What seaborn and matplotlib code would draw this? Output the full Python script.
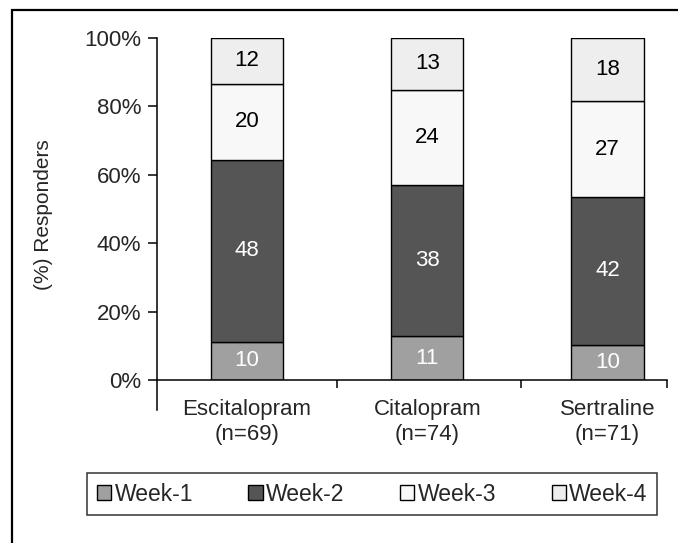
import numpy as np
import pandas as pd
import seaborn as sns
import matplotlib.pyplot as plt
from matplotlib.patches import Rectangle
from matplotlib.ticker import FixedLocator, PercentFormatter

# Chart data
drugs = ["Escitalopram\n(n=69)", "Citalopram\n(n=74)", "Sertraline\n(n=71)"]
weeks = ["Week-1", "Week-2", "Week-3", "Week-4"]
week1 = [10, 11, 10]
week2 = [48, 38, 42]
week3 = [20, 24, 27]
week4 = [12, 13, 18]

colors = ["#a0a0a0", "#555555", "#f8f8f8", "#eeeeee"]
text_colors = ["white", "white", "black", "black"]

sns.set_style("white")
plt.rcParams["font.family"] = ["Liberation Sans", "DejaVu Sans"]

counts = np.array([week1, week2, week3, week4], dtype=float)
shares = counts / counts.sum(axis=0)

fig = plt.figure(figsize=(6.78, 5.43), dpi=100)
ax = fig.add_axes([157 / 678, 163 / 543, 510 / 678, 342 / 543])

bottom = np.zeros(len(drugs))
for i, week in enumerate(weeks):
    df = pd.DataFrame({"drug": drugs, "share": shares[i]})
    sns.barplot(data=df, x="drug", y="share", color=colors[i], bottom=bottom,
                width=0.4, edgecolor="black", linewidth=1.0, saturation=1,
                label=week, ax=ax)
    ax.bar_label(ax.containers[-1], labels=[str(v) for v in counts[i].astype(int)],
                 label_type="center", fontsize=16, color=text_colors[i])
    bottom = bottom + shares[i]

# axes styling
ax.set_xlim(-0.5, 2.33)
ax.set_ylim(0, 1)
ax.yaxis.set_major_locator(FixedLocator([0, 0.2, 0.4, 0.6, 0.8, 1.0]))
ax.yaxis.set_major_formatter(PercentFormatter(1.0, decimals=0))
ax.set_xlabel("")
ax.set_ylabel("(%) Responders", fontsize=15)
ax.yaxis.set_label_coords(-0.204, 0.484)

for side in ["top", "right"]:
    ax.spines[side].set_visible(False)
for side in ["left", "bottom"]:
    ax.spines[side].set_color("black")
    ax.spines[side].set_linewidth(1.1)
ax.spines["left"].set_bounds(-0.088, 1.0)

ax.tick_params(axis="y", which="major", direction="out", length=6.5, width=1.1,
               color="black", labelsize=16, pad=5, left=True)
ax.tick_params(axis="x", which="major", length=0, labelsize=16, pad=14)
ax.xaxis.set_minor_locator(FixedLocator([0.5, 1.52, 2.33]))
ax.tick_params(axis="x", which="minor", direction="out", length=6, width=1.1,
               color="black", bottom=True)

# legend below the plot
handles, labels = ax.get_legend_handles_labels()
if ax.legend_:
    ax.legend_.remove()
leg = fig.legend(handles, labels, loc="center", bbox_to_anchor=(0.549, 0.0902),
                 ncol=4, fontsize=16.5, frameon=True, fancybox=False,
                 handlelength=0.62, handleheight=0.62, handletextpad=0.15,
                 columnspacing=2.42, borderpad=0.42)
leg.get_frame().set_edgecolor("black")
leg.get_frame().set_linewidth(1.1)

# outer frame
fig.add_artist(Rectangle((12 / 678, -0.2), 1.2, 0.2 + 533 / 543,
                         transform=fig.transFigure, fill=False,
                         edgecolor="black", linewidth=1.6))

fig.savefig("out.png", dpi=100)
